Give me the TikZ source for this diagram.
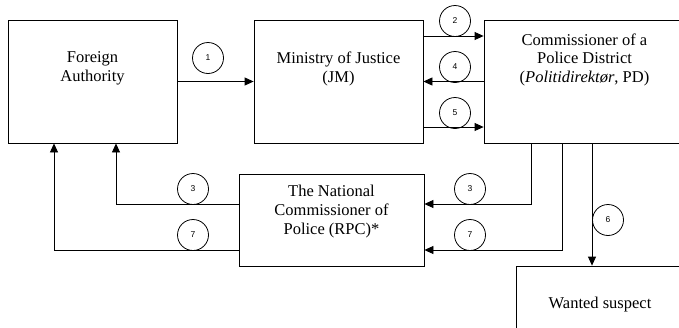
\documentclass[tikz,border=0pt]{standalone}
\usepackage{fontspec}
\setmainfont{Liberation Serif}
\newfontfamily\numfont{Liberation Sans}
\usetikzlibrary{positioning, arrows.meta}

\begin{document}
\begin{tikzpicture}[
			x = 1pt,
			y = -1pt,
			line width = 0.8pt,
			agency/.style = {draw, inner sep = 0pt},
			agencytext/.style = {inner sep = 0pt, align = center, font = \fontsize{16.5}{18.8}\selectfont},
			stepno/.style = {circle, draw, inner sep = 0pt, minimum size = 31pt, font = \numfont\fontsize{8.5}{10}\selectfont},
			flow/.style = {-{Triangle[length = 9pt, width = 8pt]}}
		]
		\clip (0,0) rectangle (679,327);
		\node[agency, minimum width = 169pt, minimum height = 123pt] (fa) at (92.5,81.5) {};
		\node[agency, minimum width = 169pt, minimum height = 123pt] (jm) at (338.5,81.5) {};
		\node[agency, minimum width = 201pt, minimum height = 123pt] (pd) at (584.5,81.5) {};
		\node[agency, minimum width = 185pt, minimum height = 92pt] (rpc) at (331.5,220) {};
		\node[agency, minimum width = 168pt, minimum height = 92pt] (ws) at (600,312) {};
		\node[agencytext, below = 32pt of fa.north] (fatext) {Foreign\\Authority};
		\node[agencytext, below = 32pt of jm.north] (jmtext) {Ministry of Justice\\(JM)};
		\node[agencytext, below = 13.5pt of pd.north] (pdtext) {Commissioner of a\\Police District\\(\textit{Politidirektør}, PD)};
		\node[agencytext, below = 11.5pt of rpc.north] (rpctext) {The National\\Commissioner of\\Police (RPC)*};
		\node[agencytext, below = 31pt of ws.north] (wstext) {Wanted suspect};
		\draw[flow] (fa.east) -- (jm.west);
		\draw[flow] ([yshift = 45.5pt]jm.east) -- ([yshift = 45.5pt]pd.west);
		\draw[flow] (pd.west) -- (jm.east);
		\draw[flow] ([yshift = -45.5pt]jm.east) -- ([yshift = -45.5pt]pd.west);
		\draw[flow] ([xshift = -53.5pt]pd.south) |- ([yshift = 16pt]rpc.east);
		\draw[flow] ([xshift = -22.5pt]pd.south) |- ([yshift = -30pt]rpc.east);
		\draw[flow] ([xshift = 7.5pt]pd.south) -- ([xshift = 7.5pt]pd.south |- ws.north);
		\draw[flow] ([yshift = 16pt]rpc.west) -| ([xshift = 23.5pt]fa.south);
		\draw[flow] ([yshift = -30pt]rpc.west) -| ([xshift = -38.5pt]fa.south);
		\node[stepno] (s1) at (208,58) {1};
		\node[stepno] (s2) at (455,21) {2};
		\node[stepno] (s4) at (455,67) {4};
		\node[stepno] (s5) at (455,113) {5};
		\node[stepno] (s3r) at (470,189) {3};
		\node[stepno] (s7r) at (470,235) {7};
		\node[stepno] (s3l) at (193,189) {3};
		\node[stepno] (s7l) at (193,235) {7};
		\node[stepno] (s6) at (608,220) {6};
	\end{tikzpicture}
\end{document}
